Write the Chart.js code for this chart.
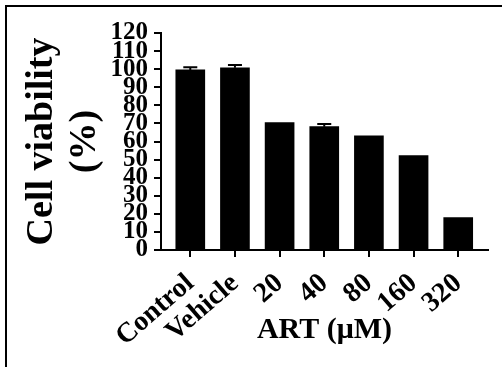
<!DOCTYPE html>
<html>
<head>
<meta charset="utf-8">
<script src="https://cdn.jsdelivr.net/npm/chart.js@4"></script>
<style>
  html, body { margin: 0; padding: 0; background: #fff; }
  #frame { position: absolute; left: 5px; top: 5px; width: 497px; height: 362px;
           border-top: 2px solid #000; border-left: 2px solid #000; box-sizing: border-box; }
  #wrap { position: absolute; left: 0; top: 0; width: 502px; height: 367px; }
</style>
</head>
<body>
<div id="frame"></div>
<div id="wrap"><canvas id="chart"></canvas></div>
<script>
const groups = ['Control', 'Vehicle', '20', '40', '80', '160', '320'];
const viability = [99.6, 100.8, 70.4, 68.2, 63.1, 52.2, 17.9];
const errors = [1.5, 1.5, 0, 1.5, 0, 0, 0];
const yMin = 0, yMax = 120, yStep = 10;

const serif = '"Liberation Serif", "Times New Roman", serif';

// small caps on top of the bars (SEM)
const errorBars = {
  id: 'errorBars',
  afterDatasetsDraw(chart) {
    const meta = chart.getDatasetMeta(0);
    const y = chart.scales.y;
    const ctx = chart.ctx;
    ctx.save();
    ctx.strokeStyle = '#000';
    ctx.lineWidth = 2;
    meta.data.forEach((bar, i) => {
      if (!errors[i]) return;
      const top = y.getPixelForValue(viability[i] + errors[i]);
      ctx.beginPath();
      ctx.moveTo(bar.x, bar.y);
      ctx.lineTo(bar.x, top);
      ctx.moveTo(bar.x - 7, top);
      ctx.lineTo(bar.x + 7, top);
      ctx.stroke();
    });
    ctx.restore();
  }
};

new Chart(document.getElementById('chart'), {
  type: 'bar',
  data: {
    datasets: [{
      data: viability.map((v, i) => ({ x: i, y: v })),
      backgroundColor: '#000',
      borderWidth: 0,
      barThickness: 29
    }]
  },
  options: {
    responsive: true,
    maintainAspectRatio: false,
    animation: false,
    layout: { padding: { top: 33, right: 14, left: 0, bottom: 0 } },
    plugins: { legend: { display: false }, tooltip: { enabled: false } },
    scales: {
      x: {
        type: 'linear',
        offset: false,
        bounds: 'data',
        min: -0.656,
        max: 6.667,
        afterBuildTicks: scale => { scale.ticks = groups.map((g, i) => ({ value: i })); },
        afterFit: scale => { scale.height = 117; },
        grid: { offset: false, drawOnChartArea: false, drawTicks: true, tickLength: 7, lineWidth: 2, color: '#000' },
        border: { display: true, color: '#000', width: 2 },
        ticks: {
          autoSkip: false,
          maxRotation: 41,
          minRotation: 41,
          padding: 10,
          color: '#000',
          font: { family: serif, size: 28, weight: 'bold' },
          callback: v => groups[v]
        },
        title: {
          display: true,
          text: 'ART (μM)',
          color: '#000',
          font: { family: serif, size: 30, weight: 'bold' },
          padding: { top: 0, bottom: 19 }
        }
      },
      y: {
        min: yMin,
        max: yMax,
        afterFit: scale => { scale.width = 161; },
        grid: { drawOnChartArea: false, drawTicks: true, tickLength: 7, lineWidth: 2, color: '#000' },
        border: { display: true, color: '#000', width: 2 },
        ticks: {
          stepSize: yStep,
          autoSkip: false,
          padding: 6,
          color: '#000',
          font: { family: serif, size: 25, weight: 'bold' }
        },
        title: {
          display: true,
          text: ['Cell viability', '(%)'],
          color: '#000',
          font: { family: serif, size: 38, weight: 'bold', lineHeight: 1.12 },
          padding: { top: 21, bottom: 0 }
        }
      }
    }
  },
  plugins: [errorBars]
});
</script>
</body>
</html>
